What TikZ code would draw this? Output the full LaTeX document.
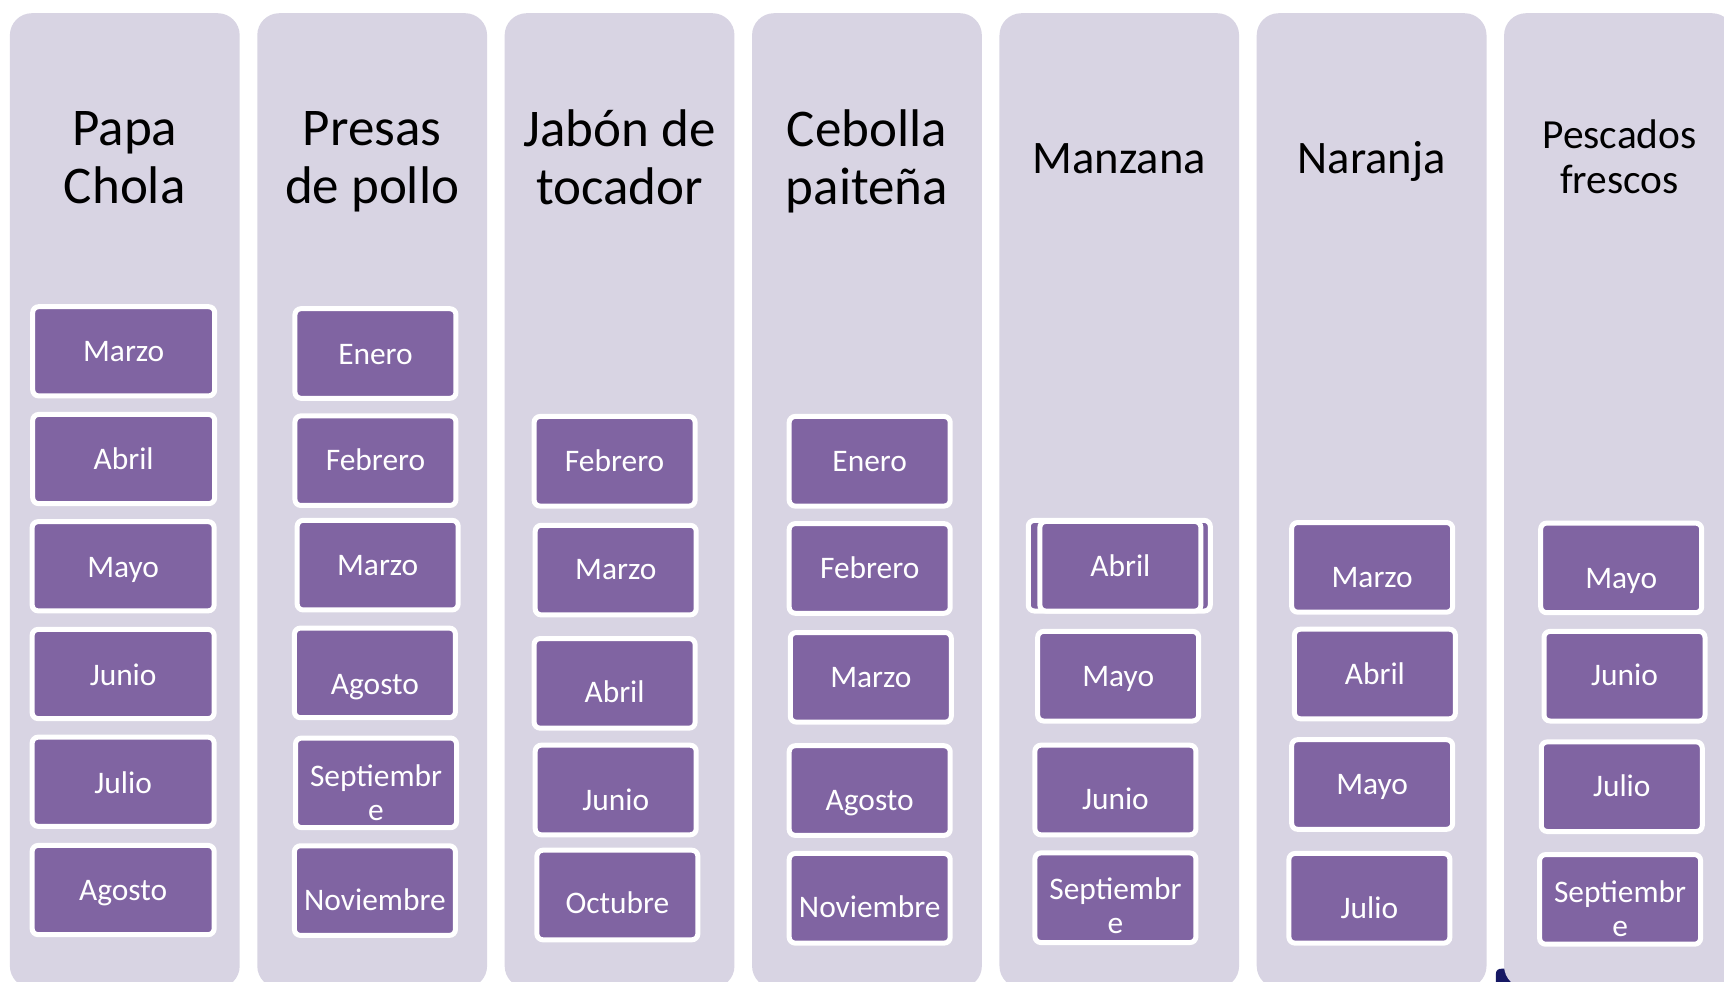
\documentclass[tikz,border=0pt]{standalone}
\usepackage{fontspec}
\setmainfont{Carlito}
\definecolor{colbg}{RGB}{216,212,227}
\definecolor{boxpurple}{RGB}{128,100,162}
\definecolor{navyblk}{RGB}{22,24,100}
\tikzset{
  colbox/.style={fill=colbg, rounded corners=11pt, inner sep=0pt, outer sep=0pt,
    minimum width=114.9pt, minimum height=487.4pt},
  widecol/.style={colbox, minimum width=119.8pt},
  struts/.style={execute at begin node={\rule{0pt}{0.75em}},
    execute at end node={\rule[-0.25em]{0pt}{0pt}}},
  ttl/.style={align=center, inner sep=0pt, struts,
    font=\fontsize{26.5pt}{29.2pt}\selectfont},
  ttlmid/.style={ttl, font=\fontsize{23.3pt}{26pt}\selectfont},
  ttlsmall/.style={ttl, font=\fontsize{20.7pt}{22.6pt}\selectfont},
  mbox/.style={draw=white, line width=2.5pt, fill=boxpurple, rounded corners=3pt,
    inner sep=0pt, minimum width=80.5pt, minimum height=44.8pt},
  mboxwide/.style={mbox, minimum width=91pt, minimum height=44.6pt},
  mboxback/.style={mbox, minimum width=91pt, minimum height=45.3pt},
  mtxt/.style={text=white, align=center, inner sep=0pt, struts,
    font=\fontsize{15.7pt}{17pt}\selectfont, yshift=-0.6pt},
}
\newcommand\monthbx[6][mbox]{%
  \node[#1] (#2) at (#3,#4) {};
  \node[mtxt] (#2t) at (#3,#5) {#6};}
\begin{document}
\begin{tikzpicture}[x=0.54975pt, y=-0.54975pt]
\useasboundingbox (0,0) rectangle (1568,892.25);
\fill[white] (0,0) rectangle (1568,892.25);
\clip (0,0) rectangle (1568,892.25);

% stray dark shape at bottom
\fill[navyblk] (1360.5,893) -- (1360.5,886) .. controls (1360.5,882.5) and (1362.5,881) .. (1366,881) -- (1390,881) -- (1390,893) -- cycle;

% columns
\node[colbox]  (col1) at (113.5,455.3) {};
\node[colbox]  (col2) at (338.5,455.3) {};
\node[colbox]  (col3) at (563.5,455.3) {};
\node[colbox]  (col4) at (788.5,455.3) {};
\node[widecol] (col5) at (1018,455.3) {};
\node[colbox]  (col6) at (1247.5,455.3) {};
\node[colbox]  (col7) at (1472.5,455.3) {};

% titles
\node[ttl] (tt1) at (113.5,149) {Papa\\Chola};
\node[ttl] (tt2) at (338.5,149) {Presas\\de pollo};
\node[ttl] (tt3) at (563.5,149) {Jabón de\\tocador};
\node[ttl] (tt4) at (788.5,149) {Cebolla\\paiteña};
\node[ttlmid] (tt5) at (1018,147.5) {Manzana};
\node[ttlmid] (tt6) at (1247.5,147.5) {Naranja};
\node[ttlsmall] (tt7) at (1473,147.5) {Pescados\\frescos};

% column 1
\monthbx[mboxwide]{a1}{112.5}{319.5}{321}{Marzo}
\monthbx[mboxwide]{a2}{112.5}{417.5}{419}{Abril}
\monthbx[mboxwide]{a3}{112}{515}{517}{Mayo}
\monthbx[mboxwide]{a4}{112}{613}{615}{Junio}
\monthbx[mboxwide]{a5}{112}{711}{713}{Julio}
\monthbx[mboxwide]{a6}{112}{809.5}{811}{Agosto}

% column 2
\monthbx{b1}{341.5}{321.5}{323}{Enero}
\monthbx{b2}{341.5}{419}{420}{Febrero}
\monthbx{b3}{343.5}{514}{515}{Marzo}
\monthbx{b4}{341}{612}{623}{Agosto}
\monthbx{b5}{342}{712}{723.4}{Septiembr\\e}
\monthbx{b6}{341}{810}{820}{Noviembre}

% column 3
\monthbx{c1}{559}{419.5}{421}{Febrero}
\monthbx{c2}{560}{518.5}{519}{Marzo}
\monthbx{c3}{559}{621.5}{631}{Abril}
\monthbx{c4}{560}{718.5}{729}{Junio}
\monthbx{c5}{561.5}{814}{823}{Octubre}

% column 4
\monthbx{d1}{791}{419.5}{421}{Enero}
\monthbx{d2}{791}{517}{518}{Febrero}
\monthbx{d3}{792}{616}{617}{Marzo}
\monthbx{d4}{791}{719}{729}{Agosto}
\monthbx{d5}{791}{817}{826}{Noviembre}

% column 5
\node[mboxback] (e0) at (1018,514.5) {};
\monthbx{e1}{1019}{515}{516}{Abril}
\monthbx{e2}{1017}{615}{616}{Mayo}
\monthbx{e3}{1014.5}{718.5}{728}{Junio}
\monthbx{e4}{1014.5}{816.5}{826.4}{Septiembr\\e}

% column 6
\monthbx{f1}{1248}{516}{526}{Marzo}
\monthbx{f2}{1250.5}{613}{614}{Abril}
\monthbx{f3}{1248}{713.5}{714}{Mayo}
\monthbx{f4}{1245.5}{817}{827}{Julio}

% column 7
\monthbx{g1}{1474.5}{516.5}{527}{Mayo}
\monthbx{g2}{1477.5}{615}{615}{Junio}
\monthbx{g3}{1475}{715.5}{716}{Julio}
\monthbx{g4}{1473.5}{818}{828.4}{Septiembr\\e}
\end{tikzpicture}
\end{document}
